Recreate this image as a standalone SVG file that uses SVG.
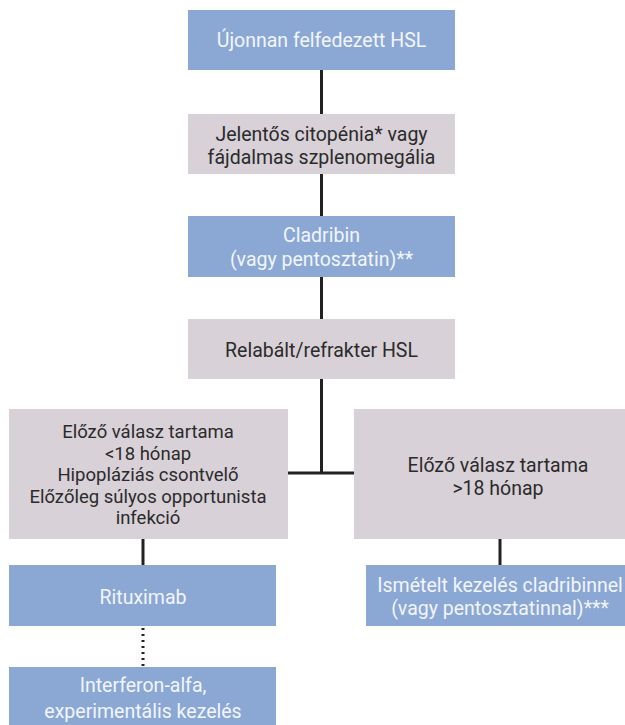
<svg xmlns="http://www.w3.org/2000/svg" width="625" height="725" viewBox="0 0 625 725">
<style>
.b{fill:#8BA8D5}
.g{fill:#D8D1D7}
text{font-family:Roboto,"DejaVu Sans",sans-serif;font-size:19.5px;text-anchor:middle}
.s{font-size:18.5px}
.tb{fill:#F2F5FB}
.tg{fill:#2B2B2B}
.c{stroke:#222;stroke-width:3;fill:none}
.d{stroke:#222;stroke-width:3;fill:none;stroke-dasharray:2 4}
</style>
<g id="connectors">
<path class="c" d="M321.5 70 V473 M288 473 H355"/>
<path class="c" d="M143 539 V565"/>
<path class="d" d="M143 628 V667"/>
<path class="c" d="M500 539 V565"/>
</g>
<g id="n1"><rect class="b" x="188" y="10" width="267" height="60"/><text class="tb" x="321.5" y="47">Újonnan felfedezett HSL</text></g>
<g id="n2"><rect class="g" x="188" y="114" width="267" height="60"/><text class="tg" x="321.5" y="141">Jelentős citopénia* vagy</text><text class="tg" x="321.5" y="164">fájdalmas szplenomegália</text></g>
<g id="n3"><rect class="b" x="188" y="216" width="267" height="61"/><text class="tb" x="321.5" y="242">Cladribin</text><text class="tb" x="321.5" y="266">(vagy pentosztatin)**</text></g>
<g id="n4"><rect class="g" x="188" y="319" width="267" height="60"/><text class="tg" x="321.5" y="357">Relabált/refrakter HSL</text></g>
<g id="n5"><rect class="g" x="9" y="409" width="279" height="130"/>
<text class="tg s" x="148" y="438">Előző válasz tartama</text>
<text class="tg s" x="148" y="459.5">&lt;18 hónap</text>
<text class="tg s" x="148" y="481">Hipopláziás csontvelő</text>
<text class="tg s" x="148" y="502.5">Előzőleg súlyos opportunista</text>
<text class="tg s" x="148" y="524">infekció</text></g>
<g id="n6"><rect class="g" x="354" y="409" width="271" height="130"/>
<text class="tg" x="498" y="472">Előző válasz tartama</text>
<text class="tg" x="498" y="495">&gt;18 hónap</text></g>
<g id="n7"><rect class="b" x="9" y="565" width="267" height="61"/><text class="tb" x="143" y="604">Rituximab</text></g>
<g id="n8"><rect class="b" x="366" y="565" width="259" height="61"/><text class="tb" x="500" y="592">Ismételt kezelés cladribinnel</text><text class="tb" x="500" y="615">(vagy pentosztatinnal)***</text></g>
<g id="n9"><rect class="b" x="9" y="667" width="267" height="58"/><text class="tb" x="143" y="692">Interferon-alfa,</text><text class="tb" x="143" y="718">experimentális kezelés</text></g>
</svg>
